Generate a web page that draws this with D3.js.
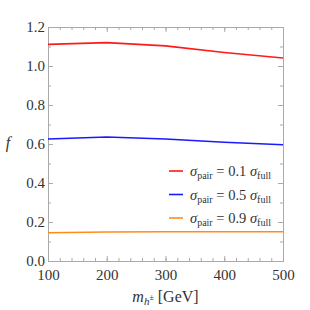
<!DOCTYPE html>
<html>
<head>
<meta charset="utf-8">
<script src="https://cdn.jsdelivr.net/npm/d3@7"></script>
<style>
  body { margin: 0; background: #fff; }
  svg text { font-family: "Liberation Serif", serif; fill: #333; }
</style>
</head>
<body>
<div id="chart"></div>
<script>
var margin = { top: 27, right: 27, bottom: 49, left: 48 },
	width = 310 - margin.left - margin.right,
	height = 310 - margin.top - margin.bottom;

const MASSES = [100, 200, 300, 400, 500];
const F_01 = [1.111, 1.12, 1.103, 1.069, 1.041];
const F_05 = [0.626, 0.636, 0.626, 0.609, 0.596];
const F_09 = [0.145, 0.149, 0.150, 0.150, 0.150];
const FRACTIONS = ["0.1", "0.5", "0.9"];
const COLORS = ["#ff1a1a", "#1a1aff", "#ff8c1a"];
const X_TICKS = [100, 200, 300, 400, 500];
const Y_TICKS = [0, 0.2, 0.4, 0.6, 0.8, 1.0, 1.2];

var series = [F_01, F_05, F_09];

var svg = d3
	.select("#chart")
	.append("svg")
	.attr("width", 310)
	.attr("height", 310)
	.append("g")
	.attr("transform", "translate(" + margin.left + "," + margin.top + ")");

var x = d3.scaleLinear().domain([100, 500]).range([0, width]);
var y = d3.scaleLinear().domain([0, 1.2]).range([height, 0]);

var minorX = d3.range(100, 501, 20);
var minorY = d3.range(0, 1.21, 0.1);

function styleAxis(g) {
	g.attr("font-size", 15);
	g.select(".domain").attr("stroke", "#aaa");
	g.selectAll(".tick line").attr("stroke", "#aaa");
	g.selectAll("text").attr("fill", "#333");
}

// minor ticks on all four sides
svg.append("g").attr("transform", "translate(0," + height + ")")
	.call(d3.axisBottom(x).tickValues(minorX).tickSize(-3).tickFormat(""))
	.call(styleAxis);
svg.append("g")
	.call(d3.axisTop(x).tickValues(minorX).tickSize(-3).tickFormat(""))
	.call(styleAxis);
svg.append("g")
	.call(d3.axisLeft(y).tickValues(minorY).tickSize(-3).tickFormat(""))
	.call(styleAxis);
svg.append("g").attr("transform", "translate(" + width + ",0)")
	.call(d3.axisRight(y).tickValues(minorY).tickSize(-3).tickFormat(""))
	.call(styleAxis);

// major ticks with labels
svg.append("g").attr("transform", "translate(0," + height + ")")
	.call(d3.axisBottom(x).tickValues(X_TICKS).tickSize(-5).tickPadding(8).tickFormat(d3.format("d")))
	.call(styleAxis);
svg.append("g")
	.call(d3.axisLeft(y).tickValues(Y_TICKS).tickSize(-5).tickPadding(3).tickFormat(d3.format(".1f")))
	.call(styleAxis);
svg.append("g")
	.call(d3.axisTop(x).tickValues(X_TICKS).tickSize(-5).tickFormat(""))
	.call(styleAxis);
svg.append("g").attr("transform", "translate(" + width + ",0)")
	.call(d3.axisRight(y).tickValues(Y_TICKS).tickSize(-5).tickFormat(""))
	.call(styleAxis);

var line = d3.line()
	.x(function (d, i) { return x(MASSES[i]); })
	.y(function (d) { return y(d); });

series.forEach(function (s, k) {
	svg.append("path")
		.datum(s)
		.attr("fill", "none")
		.attr("stroke", COLORS[k])
		.attr("stroke-width", 1.6)
		.attr("d", line);
});

// legend
var legend = svg.append("g").attr("transform", "translate(121,144)");
FRACTIONS.forEach(function (fr, k) {
	var row = legend.append("g").attr("transform", "translate(0," + k * 23.5 + ")");
	row.append("line")
		.attr("x1", 0).attr("x2", 14)
		.attr("stroke", COLORS[k]).attr("stroke-width", 1.6);
	var t = row.append("text").attr("x", 21).attr("y", 5).attr("font-size", 14.5);
	t.append("tspan").attr("font-style", "italic").text("σ");
	t.append("tspan").attr("dy", 3).attr("font-size", 10).text("pair");
	t.append("tspan").attr("dy", -3).text(" = " + fr + " ");
	t.append("tspan").attr("font-style", "italic").text("σ");
	t.append("tspan").attr("dy", 3).attr("font-size", 10).text("full");
});

// axis titles
svg.append("text")
	.attr("x", -margin.left + 8)
	.attr("y", y(0.6) + 4)
	.attr("font-size", 16)
	.attr("font-style", "italic")
	.attr("text-anchor", "middle")
	.text("f");

var xl = svg.append("text")
	.attr("x", width / 2)
	.attr("y", height + 41)
	.attr("text-anchor", "middle")
	.attr("font-size", 16);
xl.append("tspan").attr("font-style", "italic").text("m");
xl.append("tspan").attr("dy", 3).attr("font-size", 11).attr("font-style", "italic").text("h");
xl.append("tspan").attr("dy", -5).attr("font-size", 8).text("±");
xl.append("tspan").attr("dy", 2).text(" [GeV]");
</script>
</body>
</html>
